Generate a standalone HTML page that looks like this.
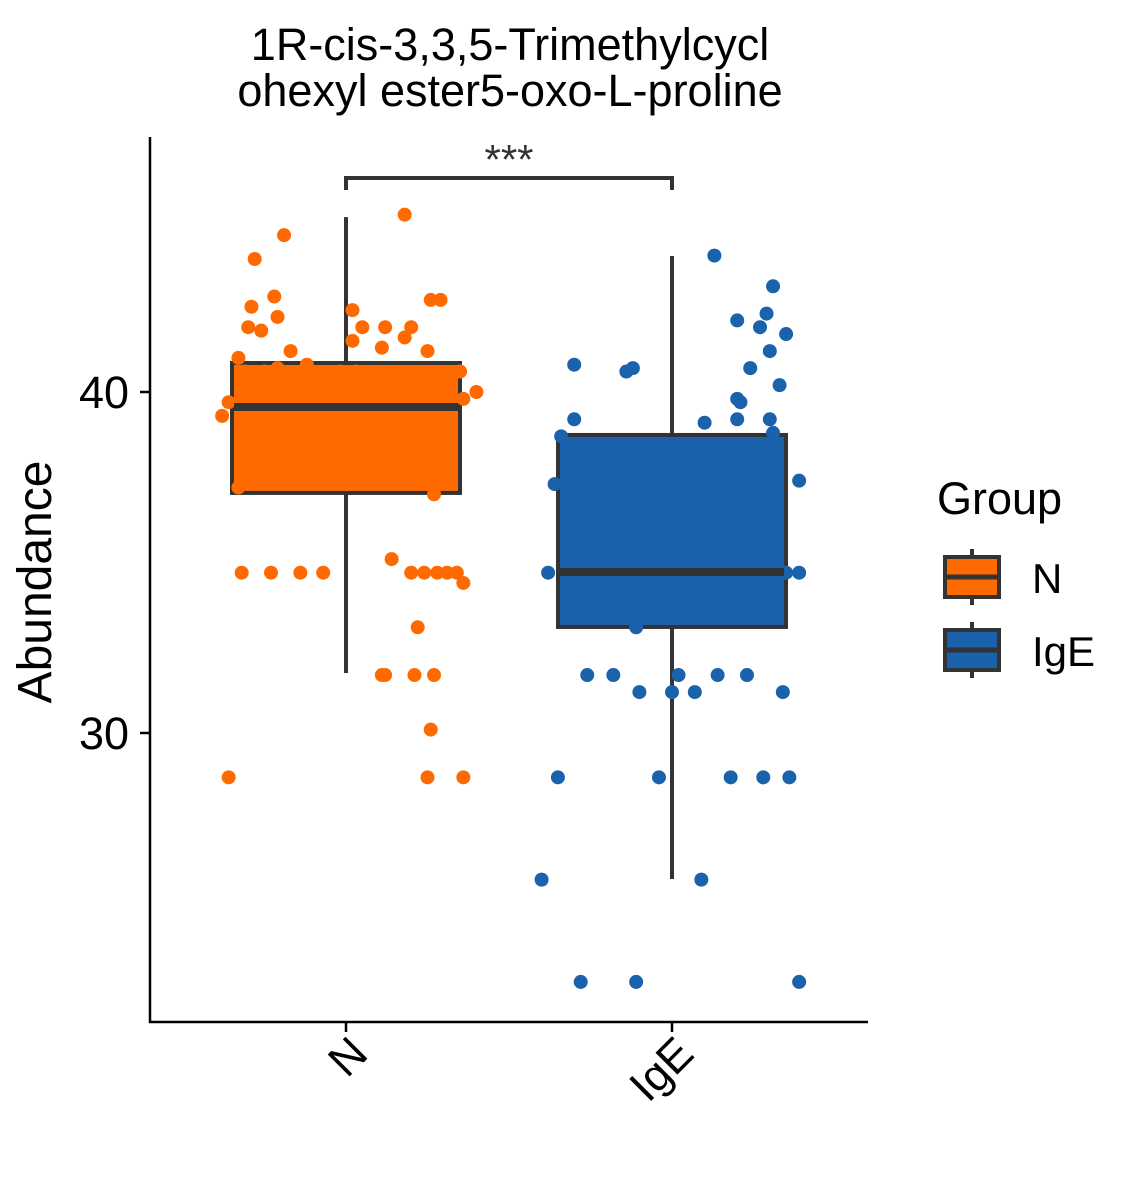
<!DOCTYPE html>
<html><head><meta charset="utf-8"><style>
body{margin:0;background:#fff}
svg{display:block;font-family:"Liberation Sans",sans-serif}
</style></head><body>
<svg id="chart" width="1140" height="1200">
<text x="510" y="60" font-size="45" text-anchor="middle" fill="#000">1R-cis-3,3,5-Trimethylcycl</text>
<text x="510" y="106" font-size="45" text-anchor="middle" fill="#000">ohexyl ester5-oxo-L-proline</text>
<text transform="translate(51,582) rotate(-90)" font-size="48" text-anchor="middle" fill="#000">Abundance</text>
<g id="plot"></g>
<text x="937" y="514" font-size="45" fill="#000">Group</text>
</svg>
<script>
const categories=["N","IgE"];
const colors=["#FF6A00","#1A62AB"];
const yTicks=[30,40];
// box stats: [lowWhisker, q1, median, q3, highWhisker]
const boxN=[31.76,37.04,39.56,40.85,45.13];
const boxIgE=[25.72,33.11,34.72,38.74,43.99];
// points: values and jitter (fraction of category width)
const nVals=[28.7,34.7,34.7,34.7,34.7,35.1,34.7,34.7,34.7,34.7,34.7,34.4,33.1,31.7,31.7,31.7,31.7,30.1,28.7,28.7,45.2,44.6,43.9,42.8,42.5,42.2,41.9,41.8,42.4,41.9,41.9,41.9,41.6,41.5,41.3,41.2,42.7,42.7,41.2,41.0,40.8,40.7,40.6,40.6,40.6,40.6,40.6,40.0,39.8,39.7,39.3,39.6,39.4,39.6,39.7,39.7,38.2,37.0,37.2,37.4,39.0,38.5,38.2,38.8,37.8];
const nJit=[-0.36,-0.32,-0.23,-0.14,-0.07,0.14,0.2,0.24,0.28,0.31,0.34,0.36,0.22,0.11,0.12,0.21,0.27,0.26,0.25,0.36,0.18,-0.19,-0.28,-0.22,-0.29,-0.21,-0.3,-0.26,0.02,0.05,0.12,0.2,0.18,0.02,0.11,0.25,0.26,0.29,-0.17,-0.33,-0.12,-0.21,-0.25,-0.31,-0.02,0.03,0.35,0.4,0.36,-0.36,-0.38,-0.18,-0.05,0.15,0.22,0.26,0.3,0.27,-0.33,0.2,0.07,-0.14,0.01,-0.27,-0.08];
const iVals=[25.7,22.7,22.7,22.7,25.7,28.7,28.7,28.7,28.7,28.7,31.7,31.7,31.2,31.2,31.7,31.2,31.7,31.7,31.2,33.1,34.7,34.7,34.7,34.7,34.7,34.7,34.7,34.7,34.7,34.7,37.3,37.4,38.7,39.2,40.8,40.6,40.7,39.1,44.0,43.1,42.1,42.3,41.9,41.7,41.2,40.7,40.2,39.8,39.7,39.2,39.2,38.8];
const iJit=[-0.4,-0.28,-0.11,0.39,0.09,-0.35,-0.04,0.18,0.28,0.36,-0.26,-0.18,-0.1,0.0,0.02,0.07,0.14,0.23,0.34,-0.11,-0.38,-0.26,-0.19,-0.15,-0.07,0.05,0.18,0.27,0.35,0.39,-0.36,0.39,-0.34,-0.3,-0.3,-0.14,-0.12,0.1,0.13,0.31,0.2,0.29,0.27,0.35,0.3,0.24,0.33,0.2,0.21,0.2,0.3,0.31];

const NS="http://www.w3.org/2000/svg";
const plot=document.getElementById('plot');
const y=v=>392-(v-40)*34.1;
const xc=i=>346+i*326;
const catW=326;
function mk(tag,attrs,parent){const e=document.createElementNS(NS,tag);for(const k in attrs)e.setAttribute(k,attrs[k]);(parent||plot).appendChild(e);return e;}

const boxes=[boxN,boxIgE];
const vals=[nVals,iVals], jits=[nJit,iJit];
boxes.forEach((b,i)=>{
  const cx=xc(i);
  const wh=mk('line',{x1:cx,x2:cx,y1:y(b[0]),y2:y(b[4]),stroke:'#333','stroke-width':4});
  
  
  const r=mk('rect',{x:cx-114,y:y(b[3]),width:228,height:y(b[1])-y(b[3]),fill:colors[i],stroke:'#333','stroke-width':4});
  
  
});
vals.forEach((arr,i)=>{
  arr.forEach((v,j)=>{
    const c=mk('circle',{cx:xc(i)+jits[i][j]*catW,cy:y(v),r:7,fill:colors[i]});
    
    
  });
});
boxes.forEach((b,i)=>{
  const cx=xc(i);
  const m=mk('line',{x1:cx-112,x2:cx+112,y1:y(b[2]),y2:y(b[2]),stroke:'#333','stroke-width':8});
  
  
});
// axes
const ya=mk('line',{x1:150,x2:150,y1:137,y2:1023,stroke:'#000','stroke-width':2.5});


const xa=mk('line',{x1:149,x2:868,y1:1022,y2:1022,stroke:'#000','stroke-width':2.5});


yTicks.forEach(t=>{
  const l=mk('line',{x1:140,x2:150,y1:y(t),y2:y(t),stroke:'#000','stroke-width':2.5});
  
  
  const tx=mk('text',{x:129,y:y(t)+16,'font-size':45,'text-anchor':'end',fill:'#000'});
  tx.textContent=t;
  
  
});
categories.forEach((c,i)=>{
  const cx=xc(i);
  const l=mk('line',{x1:cx,x2:cx,y1:1022,y2:1032,stroke:'#000','stroke-width':2.5});
  
  
  const tx=mk('text',{transform:`translate(${cx+24},1056) rotate(-45)`,'font-size':45,'text-anchor':'end',fill:'#000'});
  tx.textContent=c;
  
  
});
// significance bracket
const br=mk('path',{d:`M${xc(0)},190 V178 H${xc(1)} V190`,fill:'none',stroke:'#333','stroke-width':4});


const st=mk('text',{x:(xc(0)+xc(1))/2,y:174,'font-size':42,'text-anchor':'middle',fill:'#333'});
st.textContent='***';


// legend
categories.forEach((c,i)=>{
  const ky=557+i*73;
  const g=mk('g',{});
  
  
  mk('line',{x1:972,x2:972,y1:ky-8,y2:ky+48,stroke:'#333','stroke-width':4},g);
  mk('rect',{x:945,y:ky,width:54,height:40,fill:colors[i],stroke:'#333','stroke-width':4},g);
  mk('line',{x1:947,x2:997,y1:ky+20,y2:ky+20,stroke:'#333','stroke-width':5},g);
  const t=mk('text',{x:1032,y:ky+36,'font-size':42,fill:'#000'},g);
  t.textContent=c;
});
</script>
</body></html>
